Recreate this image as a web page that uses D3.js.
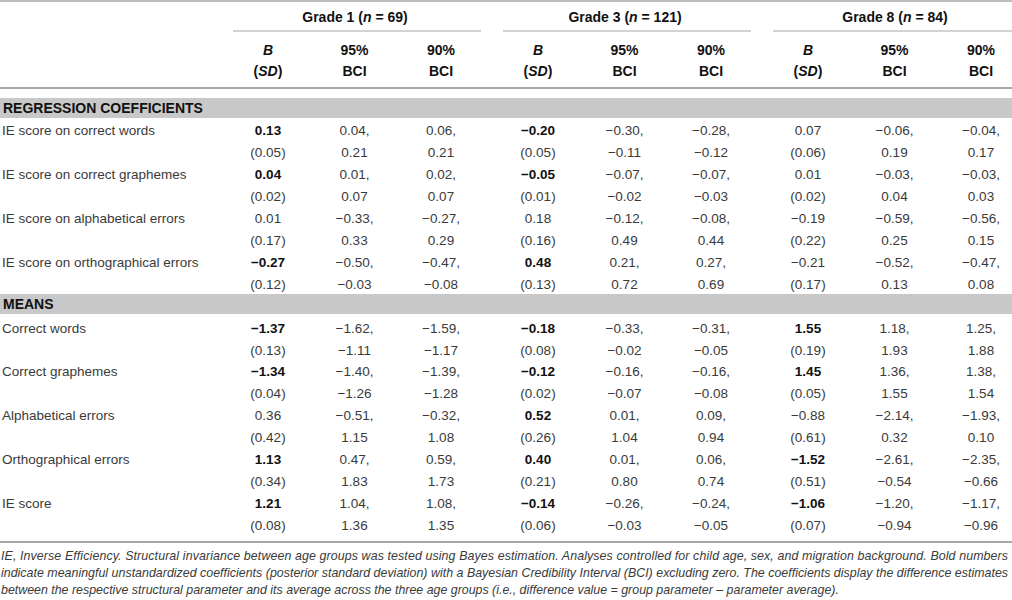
<!DOCTYPE html>
<html>
<head>
<meta charset="utf-8">
<script src="https://cdn.jsdelivr.net/npm/d3@7"></script>
<style>
  body { margin: 0; background: #fff; }
  svg { display: block; }
</style>
</head>
<body>
<svg id="table"></svg>
<script>
const grades = ["Grade 1", "Grade 3", "Grade 8"];
const gradeN = [69, 121, 84];

const regLabels = [
  "IE score on correct words",
  "IE score on correct graphemes",
  "IE score on alphabetical errors",
  "IE score on orthographical errors"
];
// rows x grades
const regB = [[0.13, -0.20, 0.07], [0.04, -0.05, 0.01], [0.01, 0.18, -0.19], [-0.27, 0.48, -0.21]];
const regSD = [[0.05, 0.05, 0.06], [0.02, 0.01, 0.02], [0.17, 0.16, 0.22], [0.12, 0.13, 0.17]];
const reg95lo = [[0.04, -0.30, -0.06], [0.01, -0.07, -0.03], [-0.33, -0.12, -0.59], [-0.50, 0.21, -0.52]];
const reg95hi = [[0.21, -0.11, 0.19], [0.07, -0.02, 0.04], [0.33, 0.49, 0.25], [-0.03, 0.72, 0.13]];
const reg90lo = [[0.06, -0.28, -0.04], [0.02, -0.07, -0.03], [-0.27, -0.08, -0.56], [-0.47, 0.27, -0.47]];
const reg90hi = [[0.21, -0.12, 0.17], [0.07, -0.03, 0.03], [0.29, 0.44, 0.15], [-0.08, 0.69, 0.08]];

const meanLabels = [
  "Correct words",
  "Correct graphemes",
  "Alphabetical errors",
  "Orthographical errors",
  "IE score"
];
const meanB = [[-1.37, -0.18, 1.55], [-1.34, -0.12, 1.45], [0.36, 0.52, -0.88], [1.13, 0.40, -1.52], [1.21, -0.14, -1.06]];
const meanSD = [[0.13, 0.08, 0.19], [0.04, 0.02, 0.05], [0.42, 0.26, 0.61], [0.34, 0.21, 0.51], [0.08, 0.06, 0.07]];
const mean95lo = [[-1.62, -0.33, 1.18], [-1.40, -0.16, 1.36], [-0.51, 0.01, -2.14], [0.47, 0.01, -2.61], [1.04, -0.26, -1.20]];
const mean95hi = [[-1.11, -0.02, 1.93], [-1.26, -0.07, 1.55], [1.15, 1.04, 0.32], [1.83, 0.80, -0.54], [1.36, -0.03, -0.94]];
const mean90lo = [[-1.59, -0.31, 1.25], [-1.39, -0.16, 1.38], [-0.32, 0.09, -1.93], [0.59, 0.06, -2.35], [1.08, -0.24, -1.17]];
const mean90hi = [[-1.17, -0.05, 1.88], [-1.28, -0.08, 1.54], [1.08, 0.94, 0.10], [1.73, 0.74, -0.66], [1.35, -0.05, -0.96]];

const sections = ["REGRESSION COEFFICIENTS", "MEANS"];
const columns = ["B", "95", "90"];

const footnote = [
  "IE, Inverse Efficiency. Structural invariance between age groups was tested using Bayes estimation. Analyses controlled for child age, sex, and migration background. Bold numbers",
  "indicate meaningful unstandardized coefficients (posterior standard deviation) with a Bayesian Credibility Interval (BCI) excluding zero. The coefficients display the difference estimates",
  "between the respective structural parameter and its average across the three age groups (i.e., difference value = group parameter \u2013 parameter average)."
];

// ---- layout ----
const width = 1012, height = 600;
const font = "'Liberation Sans', Arial, Helvetica, sans-serif";
const textColor = "#3a3a3a";
const boldColor = "#111";
const ruleColor = "#a8a8a8";
const bandColor = "#c8c8c8";
const fmt = d3.format(".2f");

const svg = d3.select("#table")
  .attr("width", width)
  .attr("height", height)
  .attr("viewBox", `0 0 ${width} ${height}`)
  .style("font-family", font);

const xGrade = d3.scaleBand().domain(grades).range([220, 1030]);
const xCol = d3.scalePoint().domain(columns).range([-87, 86]);
const colX = (g, c) => xGrade(g) + xGrade.bandwidth() / 2 + xCol(c);

const yReg = d3.scaleLinear().domain([0, regLabels.length - 1]).range([130, 262]);
const yMean = d3.scaleLinear().domain([0, meanLabels.length - 1]).range([328, 503]);
const lineGap = 22;

function rule(y, x0, x1, w) {
  svg.append("line")
    .attr("x1", x0).attr("x2", x1)
    .attr("y1", y).attr("y2", y)
    .attr("stroke", ruleColor)
    .attr("stroke-width", w);
}

function txt(x, y, s, opts = {}) {
  return svg.append("text")
    .attr("x", x).attr("y", y)
    .attr("dominant-baseline", "central")
    .attr("text-anchor", opts.anchor || "middle")
    .attr("font-size", opts.size || 13.5)
    .attr("font-weight", opts.bold ? "bold" : "normal")
    .attr("font-style", opts.italic ? "italic" : "normal")
    .attr("fill", opts.fill || (opts.bold ? boldColor : textColor))
    .text(s);
}

// header
rule(1, 0, width, 1.5);
grades.forEach((g, i) => {
  const cx = xGrade(g) + xGrade.bandwidth() / 2;
  const t = txt(cx, 17, null, { bold: true, size: 14 });
  t.append("tspan").text(`${g} (`);
  t.append("tspan").attr("font-style", "italic").text("n");
  t.append("tspan").text(` = ${gradeN[i]})`);
  rule(31, xGrade(g) + 13, Math.min(xGrade(g) + xGrade.bandwidth() - 9, width), 1);

  const bx = colX(g, "B");
  txt(bx, 50, "B", { bold: true, italic: true, size: 14 });
  const sd = txt(bx, 71, null, { bold: true, size: 14 });
  sd.append("tspan").text("(");
  sd.append("tspan").attr("font-style", "italic").text("SD");
  sd.append("tspan").text(")");
  ["95", "90"].forEach(c => {
    txt(colX(g, c), 50, `${c}%`, { bold: true, size: 14 });
    txt(colX(g, c), 71, "BCI", { bold: true, size: 14 });
  });
});
rule(88, 0, width, 2);

// section bands
function band(yc, label) {
  svg.append("rect")
    .attr("x", 0).attr("y", yc - 10)
    .attr("width", width).attr("height", 20)
    .attr("fill", bandColor);
  txt(3, yc, label, { anchor: "start", bold: true, size: 14 });
}

function section(labels, yScale, B, SD, lo95, hi95, lo90, hi90) {
  labels.forEach((lab, r) => {
    const y = yScale(r);
    txt(2, y, lab, { anchor: "start" });
    grades.forEach((g, gi) => {
      const sig = lo95[r][gi] * hi95[r][gi] > 0;
      txt(colX(g, "B"), y, fmt(B[r][gi]), { bold: sig });
      txt(colX(g, "B"), y + lineGap, `(${fmt(SD[r][gi])})`);
      txt(colX(g, "95"), y, fmt(lo95[r][gi]) + ",");
      txt(colX(g, "95"), y + lineGap, fmt(hi95[r][gi]));
      txt(colX(g, "90"), y, fmt(lo90[r][gi]) + ",");
      txt(colX(g, "90"), y + lineGap, fmt(hi90[r][gi]));
    });
  });
}

band(108, sections[0]);
section(regLabels, yReg, regB, regSD, reg95lo, reg95hi, reg90lo, reg90hi);
band(yMean(0) - 24, sections[1]);
section(meanLabels, yMean, meanB, meanSD, mean95lo, mean95hi, mean90lo, mean90hi);

rule(542, 0, width, 2);

// footnote: full lines justified to the table width, last line left ragged
footnote.forEach((line, i) => {
  const t = txt(1, 556 + i * 17, line, { anchor: "start", italic: true, size: 12.4 });
  if (i < footnote.length - 1) {
    t.attr("textLength", 1007).attr("lengthAdjust", "spacing");
  }
});
</script>
</body>
</html>
